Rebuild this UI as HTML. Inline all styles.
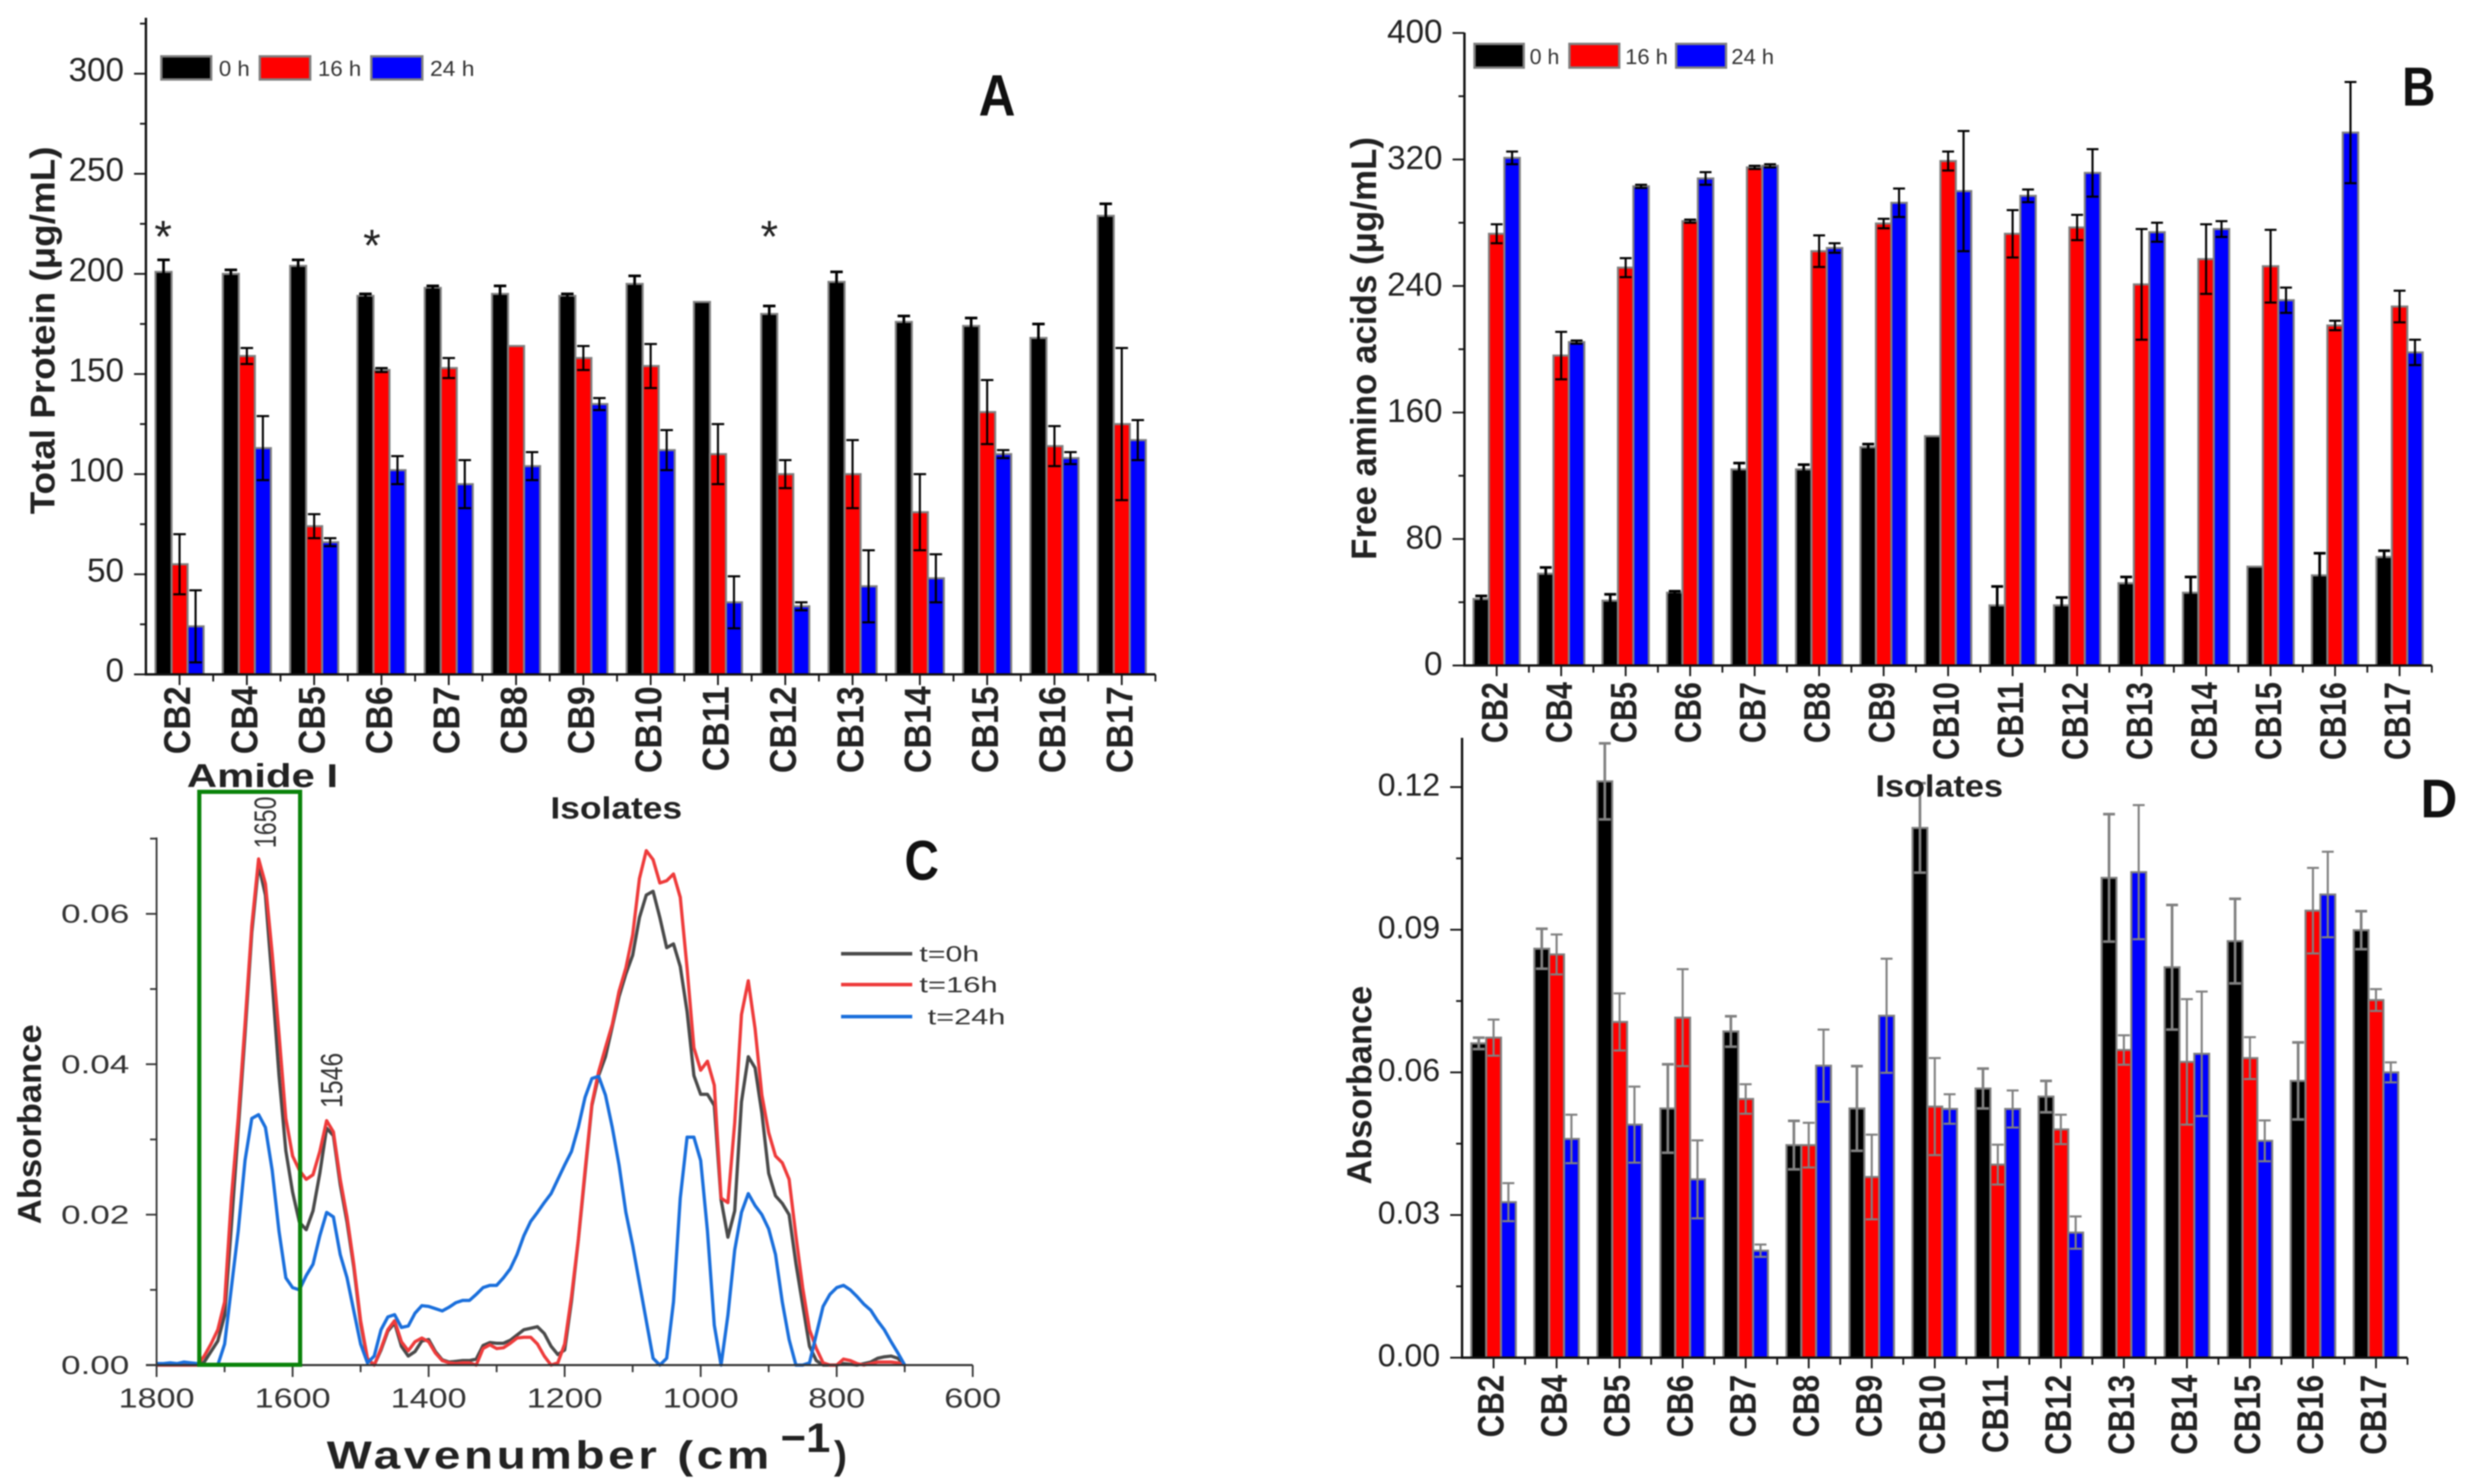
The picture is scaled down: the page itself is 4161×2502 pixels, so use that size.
<!DOCTYPE html>
<html lang="en">
<head>
<meta charset="utf-8">
<title>Isolate biochemical assays and FTIR spectra</title>
<style>
html,body{margin:0;padding:0;background:#fff;}
#figure{display:block;filter:blur(1.1px);font-family:"Liberation Sans",sans-serif;}
</style>
</head>
<body>
<svg id="figure" xmlns="http://www.w3.org/2000/svg" width="4161" height="2502" viewBox="0 0 4161 2502">
  <rect x="0" y="0" width="4161" height="2502" fill="#fff"/>
  <g id="panel-a"></g>
  <g id="panel-b"></g>
  <g id="panel-d"></g>
  <g id="panel-c"></g>

  <!-- Panel A static text -->
  <text transform="translate(92,867) rotate(-90)" font-size="58" font-weight="bold" fill="#222" textLength="620" lengthAdjust="spacingAndGlyphs">Total Protein (μg/mL)</text>
  <text x="1650" y="195" font-size="98" font-weight="bold" fill="#111" textLength="62" lengthAdjust="spacingAndGlyphs">A</text>
  <text x="275" y="425" text-anchor="middle" font-size="76" fill="#222">*</text>
  <text x="627" y="440" text-anchor="middle" font-size="76" fill="#222">*</text>
  <text x="1297" y="425" text-anchor="middle" font-size="76" fill="#222">*</text>
  <g>
    <rect x="272" y="95" width="84" height="39" fill="#000" stroke="#808080" stroke-width="4"/>
    <text x="369" y="128" font-size="36" fill="#333" textLength="52" lengthAdjust="spacingAndGlyphs">0 h</text>
    <rect x="438" y="95" width="85" height="39" fill="#f00" stroke="#808080" stroke-width="4"/>
    <text x="536" y="128" font-size="36" fill="#333" textLength="73" lengthAdjust="spacingAndGlyphs">16 h</text>
    <rect x="626" y="95" width="86" height="39" fill="#00f" stroke="#808080" stroke-width="4"/>
    <text x="725" y="128" font-size="36" fill="#333" textLength="75" lengthAdjust="spacingAndGlyphs">24 h</text>
  </g>

  <!-- Panel B static text -->
  <text transform="translate(2320,944) rotate(-90)" font-size="60" font-weight="bold" fill="#222" textLength="713" lengthAdjust="spacingAndGlyphs">Free amino acids (μg/mL)</text>
  <text x="4050" y="178" font-size="93" font-weight="bold" fill="#111" textLength="56" lengthAdjust="spacingAndGlyphs">B</text>
  <g>
    <rect x="2486" y="74" width="83" height="40" fill="#000" stroke="#808080" stroke-width="4"/>
    <text x="2579" y="108" font-size="36" fill="#333" textLength="50" lengthAdjust="spacingAndGlyphs">0 h</text>
    <rect x="2646" y="74" width="84" height="40" fill="#f00" stroke="#808080" stroke-width="4"/>
    <text x="2740" y="108" font-size="36" fill="#333" textLength="72" lengthAdjust="spacingAndGlyphs">16 h</text>
    <rect x="2826" y="74" width="84" height="40" fill="#00f" stroke="#808080" stroke-width="4"/>
    <text x="2919" y="108" font-size="36" fill="#333" textLength="72" lengthAdjust="spacingAndGlyphs">24 h</text>
  </g>

  <!-- Panel C static text -->
  <text transform="translate(69,2064) rotate(-90)" font-size="56" font-weight="bold" fill="#222" textLength="337" lengthAdjust="spacingAndGlyphs">Absorbance</text>
  <text x="1525" y="1483" font-size="95" font-weight="bold" fill="#111" textLength="58" lengthAdjust="spacingAndGlyphs">C</text>
  <text x="315" y="1327" font-size="56" font-weight="bold" fill="#222" textLength="255" lengthAdjust="spacingAndGlyphs">Amide I</text>
  <text x="928" y="1380" font-size="52" font-weight="bold" fill="#222" textLength="222" lengthAdjust="spacingAndGlyphs">Isolates</text>
  <text transform="translate(465,1430) rotate(-90)" font-size="52" fill="#333" textLength="87" lengthAdjust="spacingAndGlyphs">1650</text>
  <text transform="translate(577,1868) rotate(-90)" font-size="52" fill="#333" textLength="93" lengthAdjust="spacingAndGlyphs">1546</text>
  <g>
    <line x1="1418" y1="1608" x2="1538" y2="1608" stroke="#4a4a4a" stroke-width="6"/>
    <text x="1550" y="1621" font-size="37" fill="#333" textLength="101" lengthAdjust="spacingAndGlyphs">t=0h</text>
    <line x1="1418" y1="1660" x2="1538" y2="1660" stroke="#ee3b3b" stroke-width="6"/>
    <text x="1550" y="1673" font-size="37" fill="#333" textLength="132" lengthAdjust="spacingAndGlyphs">t=16h</text>
    <line x1="1418" y1="1714" x2="1538" y2="1714" stroke="#1a6fdc" stroke-width="6"/>
    <text x="1564" y="1727" font-size="37" fill="#333" textLength="131" lengthAdjust="spacingAndGlyphs">t=24h</text>
  </g>
  <g>
    <text x="551" y="2476" font-size="66" font-weight="bold" fill="#222" letter-spacing="5" textLength="752" lengthAdjust="spacingAndGlyphs">Wavenumber (cm</text>
    <text x="1316" y="2448" font-size="70" font-weight="bold" fill="#222" textLength="84" lengthAdjust="spacingAndGlyphs">−1</text>
    <text x="1406" y="2476" font-size="66" font-weight="bold" fill="#222">)</text>
  </g>

  <!-- Panel D static text -->
  <text transform="translate(2312,1997) rotate(-90)" font-size="58" font-weight="bold" fill="#222" textLength="335" lengthAdjust="spacingAndGlyphs">Absorbance</text>
  <text x="4081" y="1378" font-size="92" font-weight="bold" fill="#111" textLength="62" lengthAdjust="spacingAndGlyphs">D</text>
  <text id="isolates-b" x="3162" y="1343" font-size="52" font-weight="bold" fill="#222" textLength="215" lengthAdjust="spacingAndGlyphs">Isolates</text>
</svg>

<script>
// ---------- shared categories ----------
var categories = ['CB2','CB4','CB5','CB6','CB7','CB8','CB9','CB10','CB11','CB12','CB13','CB14','CB15','CB16','CB17'];

// ---------- Panel A: total protein ----------
var aTickLabels = ['0','50','100','150','200','250','300'];
var aMinorTicks = [25,75,125,175,225,275,325];
var aBlack = [201,200,204,189,193,190,189,195,186,180,196,176,174,168,229];
var aRed = [55,159,74,152,153,164,158,154,110,100,100,81,131,114,125];
var aBlue = [24,113,66,102,95,104,135,112,36,34,44,48,110,108,117];
var aBlackErr = [6,2,3,1,1,4,1,4,0,4,5,3,4,7,6];
var aRedErr = [15,4,6,1,5,0,6,11,15,7,17,19,16,10,38];
var aBlueErr = [18,16,2,7,12,7,3,10,13,2,18,12,2,3,10];

// ---------- Panel B: free amino acids ----------
var bTickLabels = ['0','80','160','240','320','400'];
var bMinorTicks = [40,120,200,280,360];
var bBlack = [42,58,41,46,124,124,138,145,38,38,52,46,62.5,57,68.6];
var bRed = [273,196,251.6,281,315,262,279.5,319,273,277,241,257,252.5,215,227];
var bBlue = [321,204.5,303,308,316,264,292.6,300,297,311.5,274,276,231,337,198];
var bBlackErr = [2,4,4,1,4,3,2,0,12,5,4,10,0,14,4];
var bRedErr = [6,15,6,1,1,10,3,6,15,8,35,22,23,3,10];
var bBlueErr = [4,1,1,4,1,3,9,38,4,15,6,5,8,32,8];

// ---------- Panel D: absorbance bars ----------
var dTickLabels = ['0.00','0.03','0.06','0.09','0.12'];
var dMinorTicks = [0.015,0.045,0.075,0.105];
var dBlack = [0.0661,0.086,0.1212,0.0524,0.0686,0.0447,0.0524,0.1114,0.0566,0.0549,0.1009,0.0821,0.0876,0.0582,0.0899];
var dRed = [0.0673,0.0848,0.0706,0.0715,0.0544,0.0447,0.038,0.0528,0.0406,0.048,0.0647,0.0622,0.063,0.094,0.0752];
var dBlue = [0.0327,0.046,0.049,0.0375,0.0225,0.0614,0.0719,0.0523,0.0523,0.0263,0.1021,0.0639,0.0456,0.0974,0.06];
var dBlackErr = [0.0012,0.0042,0.008,0.0093,0.0032,0.0051,0.0089,0.0094,0.0042,0.0033,0.0134,0.0131,0.0089,0.0081,0.004];
var dRedErr = [0.0038,0.0042,0.006,0.0102,0.0031,0.0047,0.0089,0.0102,0.0042,0.0031,0.0031,0.0132,0.0044,0.009,0.0023];
var dBlueErr = [0.004,0.0051,0.008,0.0082,0.0013,0.0076,0.012,0.0031,0.0039,0.0034,0.0141,0.0131,0.0043,0.009,0.0021];

// ---------- Panel C: FTIR spectra ----------
var cXTickLabels = ['1800','1600','1400','1200','1000','800','600'];
var cXMinorTicks = [1700,1500,1300,1100,900,700];
var cYTickLabels = ['0.00','0.02','0.04','0.06'];
var cYMinorTicks = [0.01,0.03,0.05,0.07];
var wavenumbers = [
  1800,1790,1780,1770,1760,1750,1740,1730,1720,1710,
  1700,1690,1680,1670,1660,1650,1640,1630,1620,1610,
  1600,1590,1580,1570,1560,1550,1540,1530,1520,1510,
  1500,1490,1480,1470,1460,1450,1440,1430,1420,1410,
  1400,1390,1380,1370,1360,1350,1340,1330,1320,1310,
  1300,1290,1280,1270,1260,1250,1240,1230,1220,1210,
  1200,1190,1180,1170,1160,1150,1140,1130,1120,1110,
  1100,1090,1080,1070,1060,1050,1040,1030,1020,1010,
  1000,990,980,970,960,950,940,930,920,910,
  900,890,880,870,860,850,840,830,820,810,
  800,790,780,770,760,750,740,730,720,710,
  700];
var spectrumT0 = [
  0,0,0,0,0,0,0,.0004,.0018,.0032,
  .0066,.0185,.0312,.044,.0575,.0665,.0625,.051,.0385,.0285,
  .023,.019,.018,.0205,.0255,.0315,.0305,.024,.019,.013,
  .0055,.0008,0,.002,.0045,.0056,.0025,.0012,.0018,.0032,
  .0034,.0018,.0007,.0004,.0005,.0006,.0006,.0008,.0026,.003,
  .0029,.0029,.0033,.004,.0047,.0049,.0051,.0042,.0025,.0014,
  .002,.0085,.0165,.0255,.0345,.0385,.041,.045,.049,.052,
  .0545,.0595,.0625,.063,.0595,.0555,.056,.053,.047,.0385,
  .036,.036,.0345,.022,.017,.0205,.035,.041,.0395,.0335,
  .0255,.0225,.0215,.02,.0135,.008,.0025,.0006,0,0,
  0,.0002,.0001,0,.0002,.0004,.0009,.0011,.0012,.0009,
  0];
var spectrumT16 = [
  0,0,0,0,0,0,0,.0012,.0028,.0047,
  .0084,.0222,.0328,.0453,.0584,.0673,.064,.0547,.044,.0328,
  .0278,.0259,.0247,.0253,.0284,.0325,.031,.0247,.0197,.0134,
  .0059,.0009,0,.0022,.0047,.0059,.0031,.0019,.0031,.0036,
  .0031,.0016,.0006,.0003,.0002,.0003,.0003,0,.0022,.0027,
  .0022,.0023,.0029,.0036,.0037,.0037,.0028,.0012,0,.0003,
  .0028,.0091,.0166,.0259,.0347,.039,.0422,.0453,.0497,.0528,
  .0572,.0647,.0684,.0672,.0641,.0644,.0653,.0622,.0528,.0422,
  .0392,.0404,.0372,.0222,.0216,.0322,.0466,.0511,.0447,.0359,
  .0309,.0278,.0269,.0247,.0172,.0103,.0047,.0022,.0003,0,
  0,.0008,.0006,.0002,0,.0002,.0004,.0004,.0004,.0003,
  0];
var spectrumT24 = [
  .0002,.0002,.0003,.0002,.0004,.0003,.0002,0,0,0,
  .0028,.0103,.0178,.0272,.0328,.0333,.0316,.0259,.0178,.0116,
  .0103,.01,.0119,.0134,.0172,.0203,.0197,.0147,.0116,.0072,
  .0028,.0003,.0012,.0047,.0064,.0067,.005,.0052,.0069,.0079,
  .0078,.0075,.0072,.0077,.0083,.0086,.0086,.0094,.0103,.0106,
  .0106,.0116,.0128,.0147,.0172,.0191,.0203,.0216,.0228,.0247,
  .0266,.0284,.0316,.0356,.0381,.0384,.0359,.0316,.0266,.0203,
  .0159,.0109,.0059,.0009,0,.0009,.0084,.0222,.0303,.0303,
  .0272,.0178,.0053,0,.0066,.0153,.0203,.0228,.0212,.02,
  .0181,.0147,.0084,.0034,0,0,.0003,.0041,.0078,.0094,
  .0103,.0106,.01,.0091,.0081,.0073,.0059,.0047,.0031,.0016,
  0];

var SVG_NS = 'http://www.w3.org/2000/svg';

function make(tag, parent, props) {
  var node = document.createElementNS(SVG_NS, tag);
  for (var key in props) {
    node.setAttribute(key, props[key]);
  }
  parent.appendChild(node);
  return node;
}

function drawBarPanel(panelId, layout, series, tickLabels, minorTicks) {
  var root = document.getElementById(panelId);
  var n = categories.length;
  var catW = (layout.right - layout.left) / n;
  function xCenter(i) { return layout.left + catW * (i + 0.5); }
  function yScale(v) { return layout.zeroY - v * layout.pxPerUnit; }

  // bars
  series.forEach(function (s, si) {
    s.values.forEach(function (v, i) {
      var cx = xCenter(i) + (si - 1) * layout.barW;
      var top = yScale(v);
      var bar = make('rect', root, {
        x: cx - layout.barW / 2, y: top,
        width: layout.barW, height: layout.zeroY - top,
        fill: s.color, stroke: '#808080', 'stroke-width': 3.5
      });
      
      
    });
  });

  // error bars
  series.forEach(function (s, si) {
    s.errors.forEach(function (e, i) {
      if (!e) return;
      var cx = xCenter(i) + (si - 1) * layout.barW;
      var v = s.values[i];
      var yTop = yScale(v + e);
      var yBot = yScale(Math.max(0, v - e));
      var cap = layout.capW / 2;
      var path = make('path', root, {
        d: 'M' + cx + ' ' + yBot + 'V' + yTop + 'M' + (cx - cap) + ' ' + yTop + 'H' + (cx + cap) + 'M' + (cx - cap) + ' ' + yBot + 'H' + (cx + cap),
        fill: 'none', stroke: layout.errColor, 'stroke-width': si === 0 ? layout.errWidth + 1 : layout.errWidth
      });
      
      
    });
  });

  // axes
  var yAxis = make('line', root, { x1: layout.left, y1: layout.topY, x2: layout.left, y2: layout.zeroY + 2, stroke: '#111', 'stroke-width': 4 });
  
  
  var xAxis = make('line', root, { x1: layout.left - 2, y1: layout.zeroY, x2: layout.right, y2: layout.zeroY, stroke: '#111', 'stroke-width': 4 });
  
  

  // y ticks
  tickLabels.forEach(function (label) {
    var y = yScale(parseFloat(label));
    var tick = make('line', root, { x1: layout.left - 20, y1: y, x2: layout.left, y2: y, stroke: '#111', 'stroke-width': 3 });
    
    
    var text = make('text', root, { x: layout.left - 37, y: y + layout.yFont * 0.36 + layout.labelDy, 'text-anchor': 'end', 'font-size': layout.yFont, fill: '#222' });
    text.textContent = label;
    
    
  });
  minorTicks.forEach(function (v) {
    var y = yScale(v);
    var tick = make('line', root, { x1: layout.left - 10, y1: y, x2: layout.left, y2: y, stroke: '#111', 'stroke-width': 3 });
    
    
  });

  // x ticks and labels
  categories.forEach(function (cat, i) {
    var cx = xCenter(i);
    var tick = make('line', root, { x1: cx, y1: layout.zeroY, x2: cx, y2: layout.zeroY + 18, stroke: '#111', 'stroke-width': 3 });
    
    
    var sep = make('line', root, { x1: cx + catW / 2, y1: layout.zeroY, x2: cx + catW / 2, y2: layout.zeroY + 12, stroke: '#111', 'stroke-width': 3 });
    
    
    var label = make('text', root, {
      transform: 'translate(' + (cx + layout.labelDx) + ',' + layout.labelTop + ') rotate(-90) scale(' + layout.xStretch + ',1)',
      'text-anchor': 'end', 'font-size': layout.xFont, 'font-weight': 'bold', fill: '#222'
    });
    label.textContent = cat;
    
    
  });
}

drawBarPanel('panel-a',
  { left: 246, right: 1948, zeroY: 1137, topY: 30, pxPerUnit: 3.376, barW: 27, capW: 21, errColor: '#000', errWidth: 3.5, yFont: 56, xFont: 63, xStretch: 0.91, labelDx: 18, labelTop: 1157, labelDy: -8 },
  [
    { name: '0h', color: '#000', values: aBlack, errors: aBlackErr },
    { name: '16h', color: '#f00', values: aRed, errors: aRedErr },
    { name: '24h', color: '#00f', values: aBlue, errors: aBlueErr }
  ], aTickLabels, aMinorTicks);

drawBarPanel('panel-b',
  { left: 2469, right: 4100, zeroY: 1122, topY: 55, pxPerUnit: 2.666, barW: 26, capW: 20, errColor: '#000', errWidth: 3.5, yFont: 56, xFont: 62, xStretch: 0.83, labelDx: 18, labelTop: 1150, labelDy: -4 },
  [
    { name: '0h', color: '#000', values: bBlack, errors: bBlackErr },
    { name: '16h', color: '#f00', values: bRed, errors: bRedErr },
    { name: '24h', color: '#00f', values: bBlue, errors: bBlueErr }
  ], bTickLabels, bMinorTicks);

drawBarPanel('panel-d',
  { left: 2465, right: 4059, zeroY: 2289, topY: 1244, pxPerUnit: 8017, barW: 25, capW: 20, errColor: '#808080', errWidth: 3.5, yFont: 54, xFont: 62, xStretch: 0.85, labelDx: 17, labelTop: 2318, labelDy: -5 },
  [
    { name: '0h', color: '#000', values: dBlack, errors: dBlackErr },
    { name: '16h', color: '#f00', values: dRed, errors: dRedErr },
    { name: '24h', color: '#00f', values: dBlue, errors: dBlueErr }
  ], dTickLabels, dMinorTicks);

function drawSpectra() {
  var root = document.getElementById('panel-c');
  var zeroY = 2301.5, topY = 1412, left = 264, right = 1640;
  function xScale(wn) { return left + (1800 - wn) * (right - left) / 1200; }
  function yScale(v) { return zeroY - v * 12680; }

  var curves = [
    { name: 't0h', color: '#4a4a4a', values: spectrumT0 },
    { name: 't16h', color: '#ee3b3b', values: spectrumT16 },
    { name: 't24h', color: '#1a6fdc', values: spectrumT24 }
  ];
  curves.forEach(function (c) {
    var points = c.values.map(function (v, i) {
      return xScale(wavenumbers[i]).toFixed(1) + ',' + yScale(v).toFixed(1);
    }).join(' ');
    var line = make('polyline', root, { points: points, fill: 'none', stroke: c.color, 'stroke-width': 5.5, 'stroke-linejoin': 'round' });
    
    
  });

  var yAxis = make('line', root, { x1: left, y1: topY, x2: left, y2: zeroY, stroke: '#333', 'stroke-width': 3 });
  
  
  var xAxis = make('line', root, { x1: left - 18, y1: zeroY, x2: right, y2: zeroY, stroke: '#333', 'stroke-width': 3.5 });
  
  

  cYTickLabels.forEach(function (label) {
    var y = yScale(parseFloat(label));
    var tick = make('line', root, { x1: left - 18, y1: y, x2: left, y2: y, stroke: '#333', 'stroke-width': 3 });
    
    
    var text = make('text', root, { x: 103, y: y + 15, 'font-size': 44, fill: '#333', textLength: 115, lengthAdjust: 'spacingAndGlyphs' });
    text.textContent = label;
    
    
  });
  cYMinorTicks.forEach(function (v) {
    var y = yScale(v);
    var tick = make('line', root, { x1: left - 11, y1: y, x2: left, y2: y, stroke: '#333', 'stroke-width': 3 });
    
    
  });
  cXTickLabels.forEach(function (label) {
    var x = xScale(parseFloat(label));
    var tick = make('line', root, { x1: x, y1: zeroY, x2: x, y2: zeroY + 20, stroke: '#333', 'stroke-width': 3 });
    
    
    var text = make('text', root, { x: x, y: 2373, 'text-anchor': 'middle', 'font-size': 46, fill: '#333', textLength: label.length * 32, lengthAdjust: 'spacingAndGlyphs' });
    text.textContent = label;
    
    
  });
  cXMinorTicks.forEach(function (wn) {
    var x = xScale(wn);
    var tick = make('line', root, { x1: x, y1: zeroY, x2: x, y2: zeroY + 12, stroke: '#333', 'stroke-width': 3 });
    
    
  });

  var box = make('rect', root, { x: 336, y: 1335, width: 170, height: 966, fill: 'none', stroke: '#0a830a', 'stroke-width': 7 });
  
  
}
drawSpectra();

// keep the "Isolates" title of panel B painted over panel D's marks
var figure = document.getElementById('figure');
figure.appendChild(document.getElementById('isolates-b'));
</script>
</body>
</html>
